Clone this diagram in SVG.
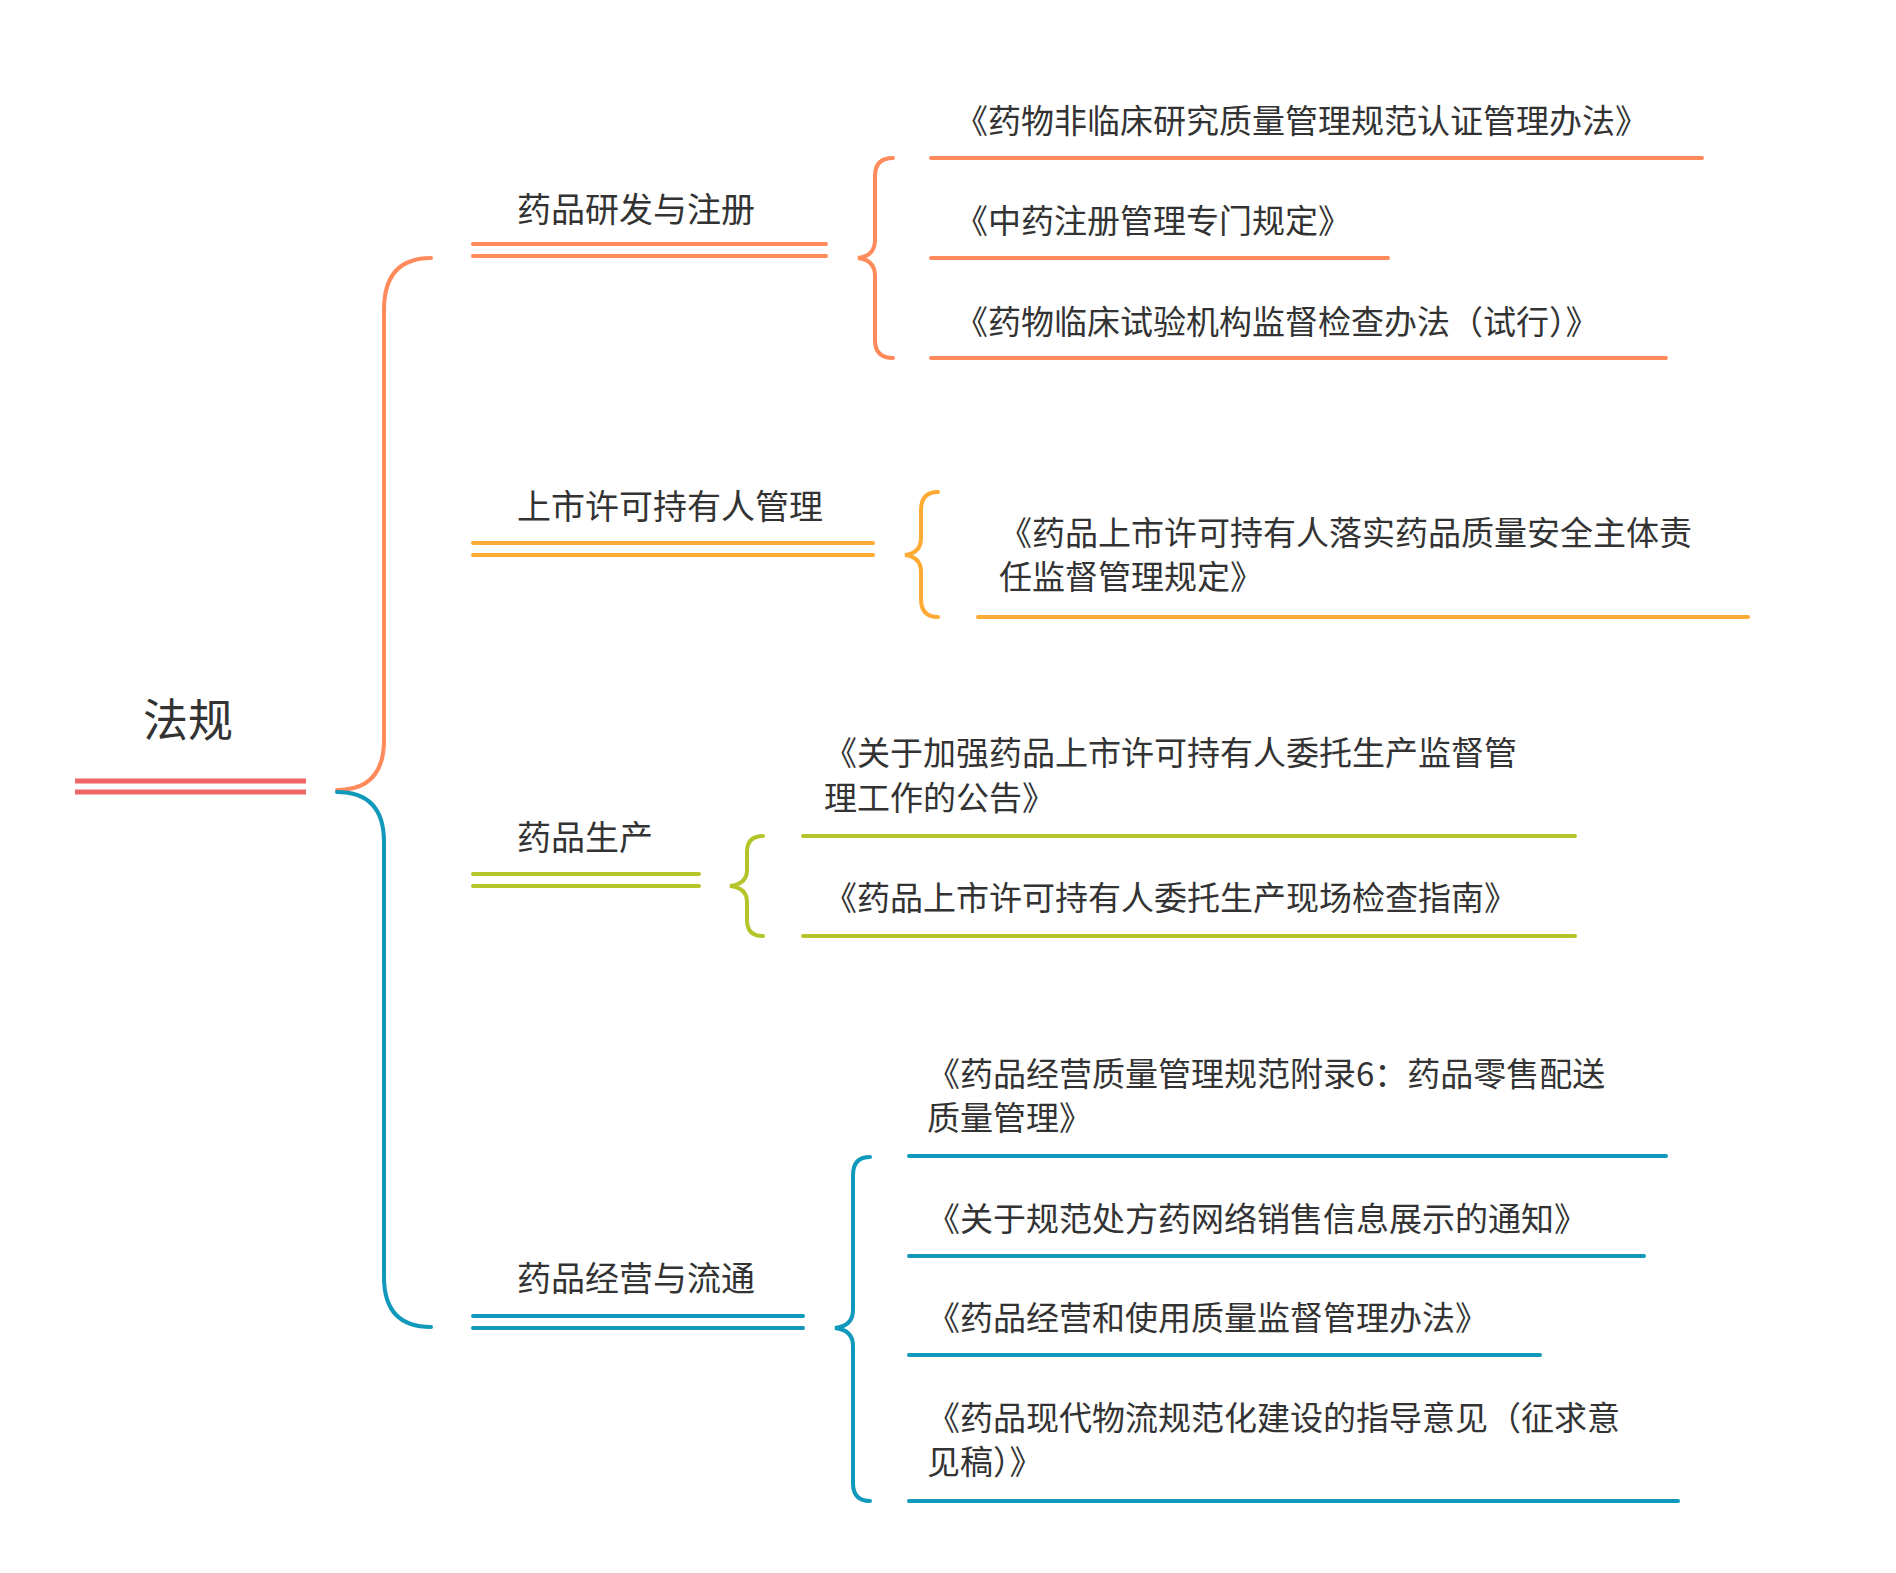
<svg xmlns="http://www.w3.org/2000/svg" width="1896" height="1573" viewBox="0 0 1896 1573">
<style>
text{font-family:"Noto Sans CJK SC","Noto Sans",sans-serif;fill:#333;dominant-baseline:central}
.l{font-size:33px}.b{font-size:34px}
path,line{fill:none;stroke-width:4;stroke-linecap:round}
.o{stroke:#FF8A5B}.y{stroke:#FFAA33}.g{stroke:#B5C42A}.c{stroke:#1199BB}
</style>
<rect width="1896" height="1573" fill="#fff"/>
<g id="connectors">
<path class="o" d="M431 258 Q384 258 384 310 L384 740 Q384 790 337 790"/>
<path class="c" d="M337 792 Q384 792 384 842 L384 1277 Q384 1327 431 1327"/>
<path class="o" d="M893 158 Q875 158 875 176 L875 240 Q875 256 858 258 Q875 260 875 276 L875 340 Q875 358 893 358"/>
<path class="y" d="M938 492 Q921 492 921 510 L921 538 Q921 553 905 555 Q921 557 921 572 L921 599 Q921 617 938 617"/>
<path class="g" d="M763 836 Q747 836 747 852 L747 870 Q747 884 730 886 Q747 888 747 902 L747 920 Q747 936 763 936"/>
<path class="c" d="M870 1157 Q853 1157 853 1175 L853 1310 Q853 1326 835 1328 Q853 1330 853 1346 L853 1483 Q853 1501 870 1501"/>
</g>
<g id="root"><text x="188" y="717" style="font-size:45px" text-anchor="middle">法规</text>
<line x1="75" y1="781" x2="306" y2="781" stroke="#EE6666" style="stroke-width:5;stroke-linecap:butt"/><line x1="75" y1="792" x2="306" y2="792" stroke="#EE6666" style="stroke-width:5;stroke-linecap:butt"/></g>
<g id="b1"><text class="b" x="517" y="207">药品研发与注册</text><line class="o" x1="473" y1="244" x2="826" y2="244"/><line class="o" x1="473" y1="256" x2="826" y2="256"/></g>
<g id="b2"><text class="b" x="517" y="504">上市许可持有人管理</text><line class="y" x1="473" y1="543" x2="873" y2="543"/><line class="y" x1="473" y1="555" x2="873" y2="555"/></g>
<g id="b3"><text class="b" x="517" y="835">药品生产</text><line class="g" x1="473" y1="874" x2="699" y2="874"/><line class="g" x1="473" y1="886" x2="699" y2="886"/></g>
<g id="b4"><text class="b" x="517" y="1276">药品经营与流通</text><line class="c" x1="473" y1="1316" x2="803" y2="1316"/><line class="c" x1="473" y1="1328" x2="803" y2="1328"/></g>
<g id="l1"><text class="l" x="955" y="119">《药物非临床研究质量管理规范认证管理办法》</text><line class="o" x1="931" y1="158" x2="1702" y2="158"/></g>
<g id="l2"><text class="l" x="955" y="219">《中药注册管理专门规定》</text><line class="o" x1="931" y1="258" x2="1388" y2="258"/></g>
<g id="l3"><text class="l" x="955" y="320">《药物临床试验机构监督检查办法（试行）》</text><line class="o" x1="931" y1="358" x2="1666" y2="358"/></g>
<g id="l4"><text class="l" x="999" y="531">《药品上市许可持有人落实药品质量安全主体责</text><text class="l" x="999" y="575">任监督管理规定》</text><line class="y" x1="978" y1="617" x2="1748" y2="617"/></g>
<g id="l5"><text class="l" x="824" y="751">《关于加强药品上市许可持有人委托生产监督管</text><text class="l" x="824" y="796">理工作的公告》</text><line class="g" x1="803" y1="836" x2="1575" y2="836"/></g>
<g id="l6"><text class="l" x="824" y="896">《药品上市许可持有人委托生产现场检查指南》</text><line class="g" x1="803" y1="936" x2="1575" y2="936"/></g>
<g id="l7"><text class="l" x="927" y="1072">《药品经营质量管理规范附录6：药品零售配送</text><text class="l" x="927" y="1116">质量管理》</text><line class="c" x1="909" y1="1156" x2="1666" y2="1156"/></g>
<g id="l8"><text class="l" x="927" y="1217">《关于规范处方药网络销售信息展示的通知》</text><line class="c" x1="909" y1="1256" x2="1644" y2="1256"/></g>
<g id="l9"><text class="l" x="927" y="1316">《药品经营和使用质量监督管理办法》</text><line class="c" x1="909" y1="1355" x2="1540" y2="1355"/></g>
<g id="l10"><text class="l" x="927" y="1416">《药品现代物流规范化建设的指导意见（征求意</text><text class="l" x="927" y="1460">见稿）》</text><line class="c" x1="909" y1="1501" x2="1678" y2="1501"/></g>
</svg>
